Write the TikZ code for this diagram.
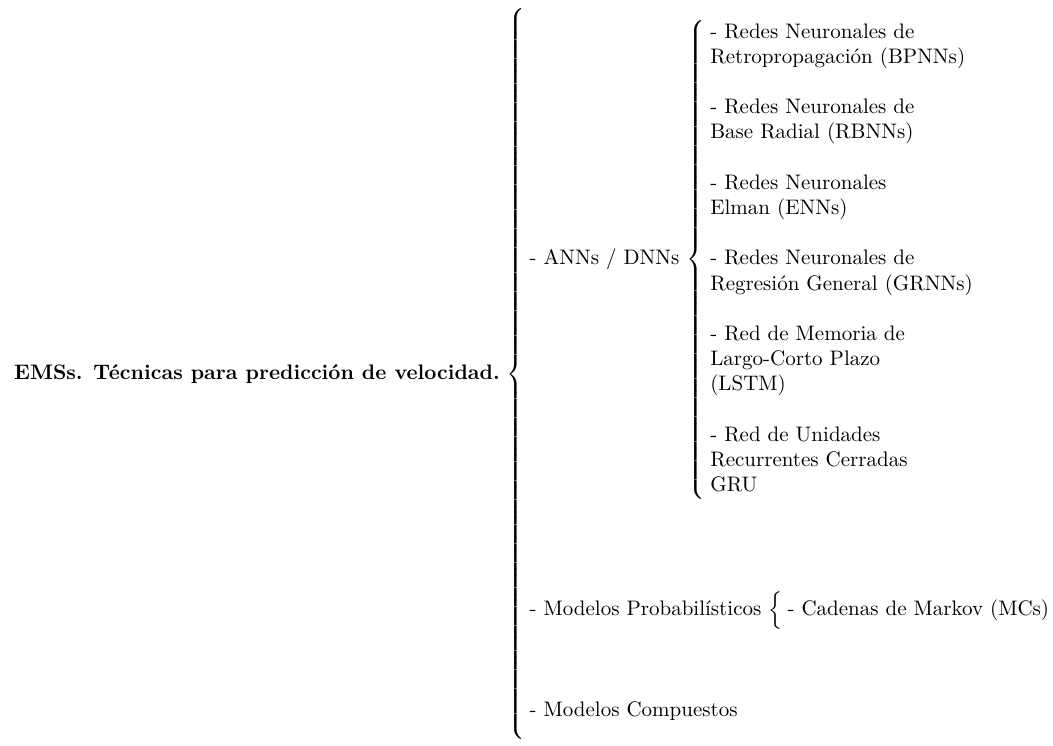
\documentclass[tikz,border=0pt]{standalone}
\usetikzlibrary{calc}
% Extensible left brace of a given height, centred on the math axis
\newcommand{\bracebox}[1]{$\left\{\vcenter{\hbox{\vrule height #1 width 0pt}}\right.\kern-\nulldelimiterspace$}
\tikzset{
  lbl/.style={anchor=base west, inner sep=0pt, outer sep=0pt},
  brc/.style={anchor=west, inner sep=0pt, outer sep=0pt},
  multi/.style={lbl},
}
\newcommand{\lines}[1]{\begin{tabular}[t]{@{}l@{}}#1\end{tabular}}
\begin{document}
\begin{tikzpicture}[x=1pt,y=1pt]
\useasboundingbox (0,0) rectangle (501.4,-354.8);

% root label and main brace
\node[anchor=base east, inner sep=0pt, outer sep=0pt, font=\bfseries] (root) at (238.0,-180.6)
  {EMSs. Técnicas para predicción de velocidad.};
\node[brc] (b0) at ($(root.base east)+(3.3,2.5)$) {\bracebox{349pt}};

% first level
\coordinate (c1) at ($(b0.east)+(2.0,0)$);
\node[lbl] (ann)  at (c1 |- 0,-126.1) {- ANNs / DNNs};
\node[lbl] (prob) at (c1 |- 0,-293.0) {- Modelos Probabilísticos};
\node[lbl] (comp) at (c1 |- 0,-341.0) {- Modelos Compuestos};

% neural network branch
\node[brc] (b1) at ($(ann.base east)+(3.3,2.5)$) {\bracebox{228pt}};
\coordinate (c2) at ($(b1.east)+(2.5,0)$);
\node[multi] (bp)  at (c2 |- 0,-18.1)  {\lines{- Redes Neuronales de\\Retropropagación (BPNNs)}};
\node[multi] (rb)  at (c2 |- 0,-54.1)  {\lines{- Redes Neuronales de\\Base Radial (RBNNs)}};
\node[multi] (en)  at (c2 |- 0,-90.1)  {\lines{- Redes Neuronales\\Elman (ENNs)}};
\node[multi] (gr)  at (c2 |- 0,-126.1) {\lines{- Redes Neuronales de\\Regresión General (GRNNs)}};
\node[multi] (ls)  at (c2 |- 0,-162.1) {\lines{- Red de Memoria de\\Largo-Corto Plazo\\(LSTM)}};
\node[multi] (gru) at (c2 |- 0,-210.1) {\lines{- Red de Unidades\\Recurrentes Cerradas\\GRU}};

% probabilistic branch
\node[brc] (b2) at ($(prob.base east)+(3.3,2.5)$) {\bracebox{15.3pt}};
\coordinate (c3) at ($(b2.east)+(2.5,0)$);
\node[lbl] (mc) at (c3 |- prob.base) {- Cadenas de Markov (MCs)};
\end{tikzpicture}
\end{document}
